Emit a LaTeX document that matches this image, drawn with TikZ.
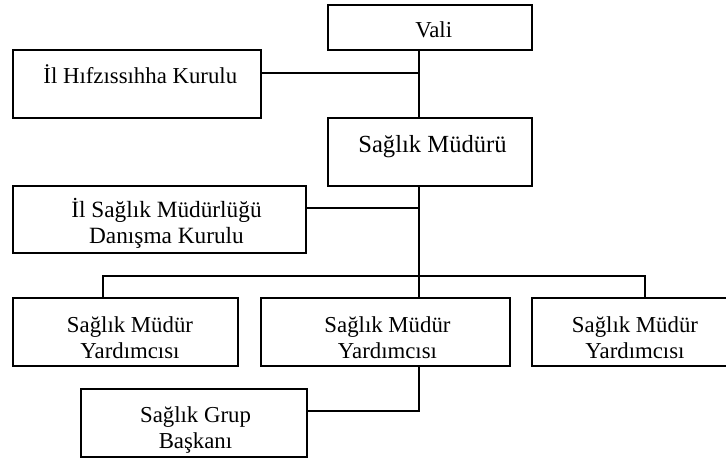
\documentclass[tikz,border=0pt]{standalone}
\usepackage{fontspec}
\setmainfont{Liberation Serif}
\begin{document}
\begin{tikzpicture}[x=1pt,y=-1pt,
  box/.style={draw,line width=1.2pt,rectangle,inner sep=0pt},
  txt/.style={inner sep=0pt,align=center,font=\fontsize{22.8}{26}\selectfont},
  conn/.style={line width=1.1pt}]
\useasboundingbox (0,0) rectangle (726,459);
\clip (0,0) rectangle (726,459);
% boxes
\node[box,minimum width=204pt,minimum height=45pt] (vali) at (430,27.5) {};
\node[box,minimum width=248pt,minimum height=68pt] (hif) at (137,84) {};
\node[box,minimum width=204pt,minimum height=68pt] (sm) at (430,152) {};
\node[box,minimum width=293pt,minimum height=67pt] (dan) at (159.5,219.5) {};
\node[box,minimum width=225pt,minimum height=68pt] (y1) at (125.5,332) {};
\node[box,minimum width=249pt,minimum height=68pt] (y2) at (385.5,332) {};
\node[box,minimum width=208pt,minimum height=68pt] (y3) at (636,332) {};
\node[box,minimum width=226pt,minimum height=68pt] (grup) at (194,423) {};
% texts
\node[txt,anchor=base] (valiT) at (433.7,37.3) {Vali};
\node[txt,anchor=base] (hifT) at (140.3,83) {İl Hıfzıssıhha Kurulu};
\node[txt,anchor=base,font=\fontsize{24.6}{28}\selectfont] (smT) at (432.5,152.3) {Sağlık Müdürü};
\node[txt,font=\fontsize{23.3}{26}\selectfont] (danT) at (166.5,223.5) {İl Sağlık Müdürlüğü\\Danışma Kurulu};
\node[txt] (y1T) at (130,337.5) {Sağlık Müdür\\Yardımcısı};
\node[txt] (y2T) at (387.5,337.5) {Sağlık Müdür\\Yardımcısı};
\node[txt] (y3T) at (635,337.5) {Sağlık Müdür\\Yardımcısı};
\node[txt] (grupT) at (195.5,430) {Sağlık Grup\\Başkanı};
% connectors
\coordinate (spine) at (419,0);
\coordinate (hifC) at (0,73);
\coordinate (danC) at (0,208);
\coordinate (grupC) at (0,411);
\coordinate (busL) at (103,276);
\coordinate (busR) at (645,276);
\draw[conn] (vali.south -| spine) -- (sm.north -| spine);
\draw[conn] (hif.east |- hifC) -- (spine |- hifC);
\draw[conn] (sm.south -| spine) -- (y2.north -| spine);
\draw[conn] (dan.east |- danC) -- (spine |- danC);
\draw[conn] (y1.north -| busL) -- (busL) -- (busR) -- (y3.north -| busR);
\draw[conn] (y2.south -| spine) -- (spine |- grupC) -- (grup.east |- grupC);
\end{tikzpicture}
\end{document}
